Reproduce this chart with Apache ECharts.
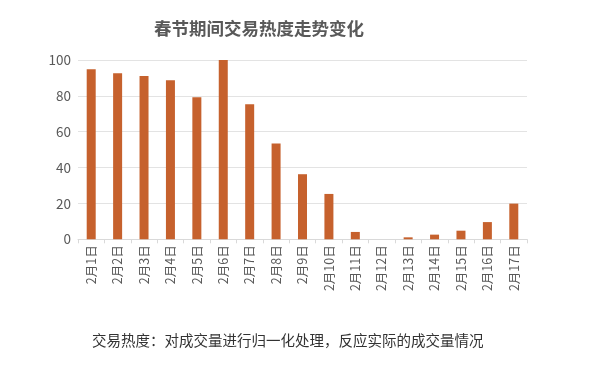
<!DOCTYPE html>
<html><head><meta charset="utf-8">
<script src="https://cdn.jsdelivr.net/npm/echarts@6/dist/echarts.min.js"></script>
<style>html,body{margin:0;padding:0;background:#fff}#c{width:600px;height:367px}</style>
</head><body><div id="c"></div>
<script>
const categories = ['2月1日','2月2日','2月3日','2月4日','2月5日','2月6日','2月7日','2月8日','2月9日','2月10日','2月11日','2月12日','2月13日','2月14日','2月15日','2月16日','2月17日'];
const heatValues = [94.8, 92.6, 91.1, 88.7, 79.2, 100, 75.3, 53.4, 36.3, 25.3, 4.1, 0, 1.1, 2.6, 4.8, 9.6, 19.9];
const yTicks = [0, 20, 40, 60, 80, 100];
const titleText = '春节期间交易热度走势变化';
const noteText = '交易热度：对成交量进行归一化处理，反应实际的成交量情况';

const chart = echarts.init(document.getElementById('c'), null, {renderer: 'canvas'});
const font = '"Noto Sans CJK SC", "Noto Sans", sans-serif';
chart.setOption({
  animation: false,
  backgroundColor: '#fff',
  title: {
    text: titleText,
    left: 254, top: 15, textAlign: 'center',
    textStyle: {fontFamily: font, fontSize: 17.5, fontWeight: 'bold', color: '#595959'}
  },
  graphic: [{
    type: 'text', left: 92, top: 333,
    style: {text: noteText, font: '14.5px ' + font, fill: '#333'}
  }],
  grid: {left: 78, right: 73, top: 60, bottom: 127.7},
  xAxis: {
    type: 'category', data: categories, boundaryGap: true,
    axisLine: {show: true, lineStyle: {color: '#d9d9d9'}},
    axisTick: {show: true, length: 4, lineStyle: {color: '#d9d9d9'}},
    axisLabel: {rotate: 90, interval: 0, color: '#595959', fontSize: 12.5, fontFamily: font, margin: 6}
  },
  yAxis: {
    type: 'value', min: yTicks[0], max: yTicks[yTicks.length - 1], interval: 20,
    axisLine: {show: false}, axisTick: {show: false},
    axisLabel: {color: '#595959', fontSize: 13.5, fontFamily: font, margin: 7},
    splitLine: {lineStyle: {color: '#e3e3e3', width: 1}}
  },
  series: [{
    type: 'bar', data: heatValues, barWidth: 9,
    itemStyle: {color: '#C6612D'}
  }]
});
</script></body></html>
